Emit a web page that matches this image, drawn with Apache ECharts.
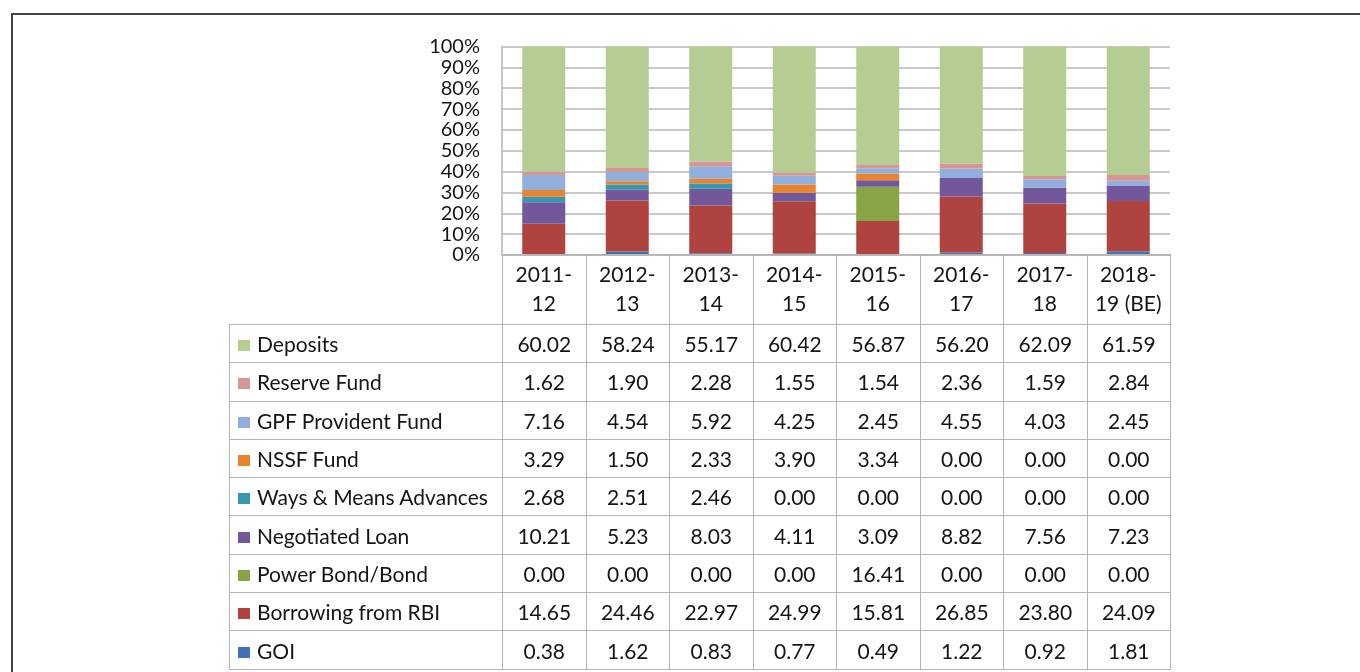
<!DOCTYPE html>
<html>
<head>
    <meta charset="utf-8">
    <title>Debt composition</title>
    <style>
        body { margin: 0; background: #fff; }
        #frame { position: absolute; left: 11px; top: 13px; width: 1400px; height: 700px;
                 border-left: 2px solid #444; border-top: 2px solid #444; }
        #main { position: absolute; left: 0; top: 0; width: 1360px; height: 672px; }
        #tbl { position: absolute; left: 229px; top: 254px; width: 941px; border-collapse: collapse;
               table-layout: fixed; font-family: Lato, sans-serif; font-size: 21px; color: #151515;
               pointer-events: none; }
        #tbl td { border: 1.5px solid #b4b4b4; height: 37.3px; padding: 0; text-align: center; }
        #tbl tr.head td { height: 69px; }
        #tbl tr.head td.blank { border-top: none; border-left: none; }
        #tbl td.name { text-align: left; padding-left: 8px; white-space: nowrap; }
        #tbl .mk { display: inline-block; width: 12px; height: 11px; margin-right: 7px; vertical-align: 1px; }
    </style>
</head>
<body>
<div id="frame"></div>
<div id="main"></div>
<table id="tbl"></table>

<script src="https://cdn.jsdelivr.net/npm/echarts@6/dist/echarts.min.js"></script>
<script>
    var years = ['2011-12', '2012-13', '2013-14', '2014-15', '2015-16', '2016-17', '2017-18', '2018-19 (BE)'];

    // table order, top to bottom
    var deposits    = [60.02, 58.24, 55.17, 60.42, 56.87, 56.20, 62.09, 61.59];
    var reserveFund = [1.62, 1.90, 2.28, 1.55, 1.54, 2.36, 1.59, 2.84];
    var gpfFund     = [7.16, 4.54, 5.92, 4.25, 2.45, 4.55, 4.03, 2.45];
    var nssfFund    = [3.29, 1.50, 2.33, 3.90, 3.34, 0.00, 0.00, 0.00];
    var waysMeans   = [2.68, 2.51, 2.46, 0.00, 0.00, 0.00, 0.00, 0.00];
    var negLoan     = [10.21, 5.23, 8.03, 4.11, 3.09, 8.82, 7.56, 7.23];
    var powerBond   = [0.00, 0.00, 0.00, 0.00, 16.41, 0.00, 0.00, 0.00];
    var rbiBorrow   = [14.65, 24.46, 22.97, 24.99, 15.81, 26.85, 23.80, 24.09];
    var goi         = [0.38, 1.62, 0.83, 0.77, 0.49, 1.22, 0.92, 1.81];

    var rows = [
        { name: 'Deposits', color: '#b5cd93', data: deposits },
        { name: 'Reserve Fund', color: '#d89693', data: reserveFund },
        { name: 'GPF Provident Fund', color: '#91aedc', data: gpfFund },
        { name: 'NSSF Fund', color: '#e8832e', data: nssfFund },
        { name: 'Ways & Means Advances', color: '#3797b0', data: waysMeans },
        { name: 'Negotiated Loan', color: '#72579a', data: negLoan },
        { name: 'Power Bond/Bond', color: '#87a545', data: powerBond },
        { name: 'Borrowing from RBI', color: '#ae4340', data: rbiBorrow },
        { name: 'GOI', color: '#3f73b8', data: goi }
    ];

    // data table under the chart
    var buildTable = function () {
        var html = '<colgroup><col style="width:273px">';
        for (var i = 0; i < years.length; i++) html += '<col style="width:83.5px">';
        html += '</colgroup><tr class="head"><td class="blank"></td>';
        for (var i = 0; i < years.length; i++) html += '<td></td>';
        html += '</tr>';
        rows.forEach(function (r) {
            html += '<tr><td class="name"><span class="mk" style="background:' + r.color + '"></span>' +
                r.name.replace('&', '&amp;') + '</td>';
            r.data.forEach(function (v) { html += '<td>' + v.toFixed(2) + '</td>'; });
            html += '</tr>';
        });
        document.getElementById('tbl').innerHTML = html;
    };

    var render = function () {
        var myChart = echarts.init(document.getElementById('main'));
        var series = rows.slice().reverse().map(function (r) {
            return {
                name: r.name,
                type: 'bar',
                stack: 'total',
                barWidth: 43,
                itemStyle: { color: r.color },
                data: r.data
            };
        });
        var option = {
            animation: false,
            grid: { left: 502, right: 190, top: 46.5, bottom: 417 },
            xAxis: {
                type: 'category',
                data: years,
                axisTick: { show: false },
                axisLine: { show: true, lineStyle: { color: '#b4b4b4', width: 1.5 } },
                axisLabel: {
                    interval: 0,
                    margin: 5,
                    fontFamily: 'Lato, sans-serif',
                    fontSize: 21,
                    lineHeight: 29.5,
                    color: '#151515',
                    formatter: function (s) { return s.replace('-', '-\n'); }
                }
            },
            yAxis: {
                type: 'value',
                min: 0,
                max: 100,
                interval: 10,
                axisLine: { show: true, lineStyle: { color: '#b4b4b4', width: 1.5 } },
                axisTick: { show: false },
                splitLine: { lineStyle: { color: '#b8b8b8', width: 1.5 } },
                axisLabel: {
                    margin: 22,
                    fontFamily: 'Lato, sans-serif',
                    fontSize: 20,
                    color: '#151515',
                    formatter: '{value}%'
                }
            },
            series: series
        };
        myChart.setOption(option);
    };

    buildTable();
    render();
</script>
</body>
</html>
